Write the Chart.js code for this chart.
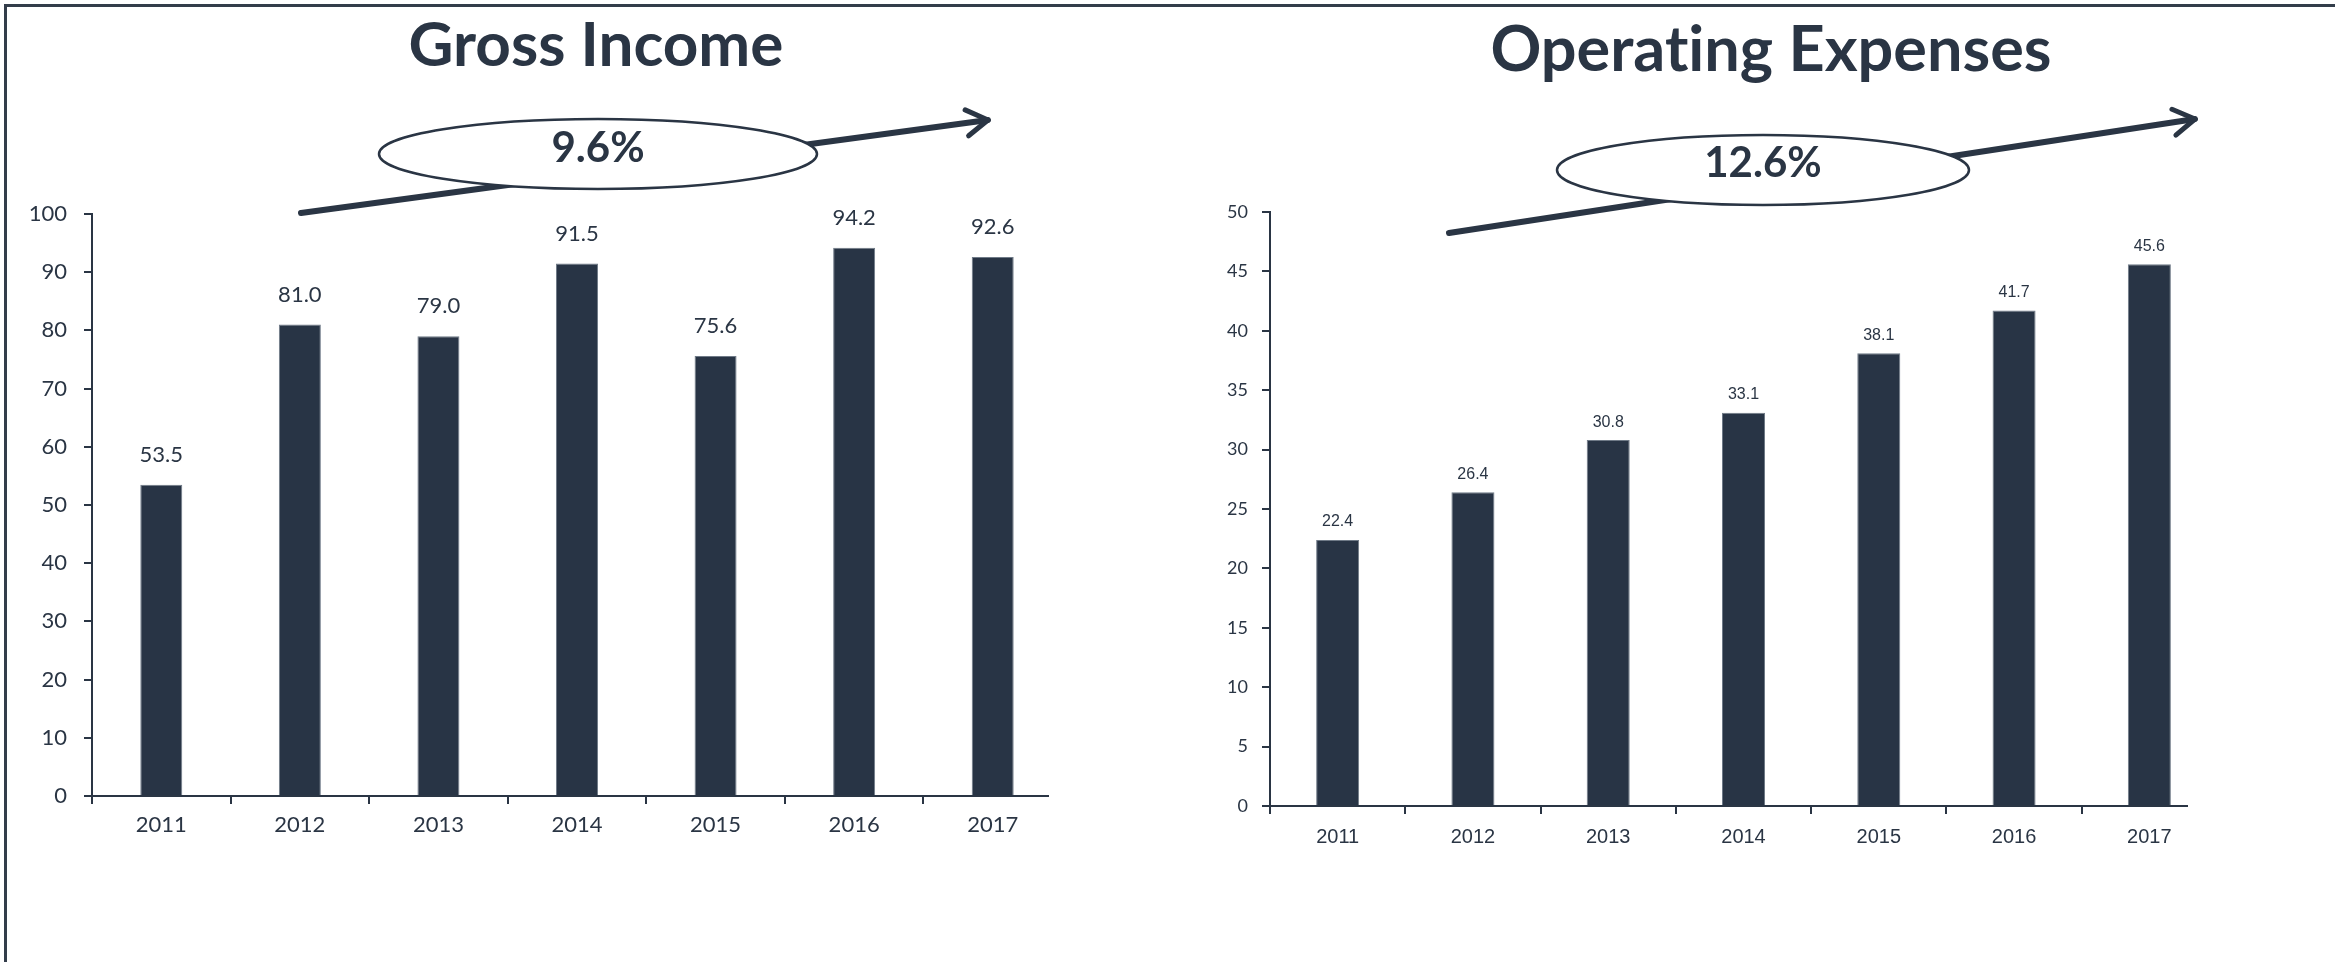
<!DOCTYPE html>
<html>
<head>
<meta charset="utf-8">
<title>Gross Income / Operating Expenses</title>
<script src="https://cdn.jsdelivr.net/npm/chart.js@4.4.1/dist/chart.umd.min.js"></script>
<style>
  html, body { margin: 0; padding: 0; background: #fff; }
  body { width: 2335px; height: 962px; position: relative; overflow: hidden; }
  .frame {
    position: absolute; left: 4px; top: 4px; width: 2400px; height: 1000px;
    border-top: 3px solid #333d4a; border-left: 3px solid #333d4a;
  }
  canvas { position: absolute; top: 0; }
  #incomeChart { left: 0; }
  #expenseChart { left: 1168px; }
  .txt {
    position: absolute; width: 700px; text-align: center; white-space: nowrap;
    font-family: Lato, "Noto Sans", sans-serif; font-weight: 700; color: #2a3544;
    font-variant-ligatures: none; z-index: 2;
  }
  .title { font-size: 62px; line-height: 62px; }
  .rate { font-size: 42px; line-height: 42px; }
</style>
</head>
<body>
<div class="frame"></div>
<canvas id="incomeChart" width="1168" height="962"></canvas>
<canvas id="expenseChart" width="1167" height="962"></canvas>

<div class="txt title" style="left:246px; top:11px;">Gross Income</div>
<div class="txt title" style="left:1421px; top:15px; font-size:63px; line-height:63px;">Operating Expenses</div>
<div class="txt rate" style="left:248px; top:125px;">9.6%</div>
<div class="txt rate" style="left:1413px; top:140px;">12.6%</div>

<script>
  "use strict";

  // Chart data
  const years = ["2011", "2012", "2013", "2014", "2015", "2016", "2017"];
  const grossIncome = [53.5, 81.0, 79.0, 91.5, 75.6, 94.2, 92.6];
  const operatingExpenses = [22.4, 26.4, 30.8, 33.1, 38.1, 41.7, 45.6];
  const incomeAxis = { min: 0, max: 100, step: 10 };
  const expenseAxis = { min: 0, max: 50, step: 5 };

  const ink = "#2a3544";
  const barColor = "#283445";

  Chart.defaults.color = ink;
  Chart.defaults.devicePixelRatio = 1;

  // Value labels above each bar
  const valueLabels = {
    id: "valueLabels",
    afterDatasetsDraw(chart, args, opts) {
      const ctx = chart.ctx;
      const meta = chart.getDatasetMeta(0);
      const data = chart.data.datasets[0].data;
      ctx.save();
      ctx.font = opts.font;
      ctx.fillStyle = ink;
      ctx.textAlign = "center";
      ctx.textBaseline = "middle";
      meta.data.forEach(function (bar, i) {
        ctx.fillText(data[i].toFixed(1), bar.x, bar.y - opts.offset);
      });
      ctx.restore();
    },
  };

  // Category axis line, a bit shorter than the plot area (as in the sheet)
  const baseLine = {
    id: "baseLine",
    afterDatasetsDraw(chart, args, opts) {
      const ctx = chart.ctx;
      const area = chart.chartArea;
      ctx.save();
      ctx.strokeStyle = ink;
      ctx.lineWidth = 2;
      ctx.beginPath();
      ctx.moveTo(area.left - 1, area.bottom);
      ctx.lineTo(area.right - opts.trim, area.bottom);
      ctx.stroke();
      ctx.restore();
    },
  };

  // Growth arrow with the ellipse badge
  const trendArrow = {
    id: "trendArrow",
    afterDraw(chart, args, opts) {
      const ctx = chart.ctx;
      const [x1, y1] = opts.from;
      const [x2, y2] = opts.to;
      const ang = Math.atan2(y2 - y1, x2 - x1);
      const head = 25;
      const spread = 0.55;
      ctx.save();
      ctx.strokeStyle = ink;
      ctx.lineCap = "round";
      ctx.lineJoin = "round";
      ctx.lineWidth = 6;
      ctx.beginPath();
      ctx.moveTo(x1, y1);
      ctx.lineTo(x2, y2);
      ctx.stroke();
      ctx.lineWidth = 5;
      ctx.beginPath();
      ctx.moveTo(x2 - head * Math.cos(ang - spread), y2 - head * Math.sin(ang - spread));
      ctx.lineTo(x2, y2);
      ctx.lineTo(x2 - head * Math.cos(ang + spread), y2 - head * Math.sin(ang + spread));
      ctx.stroke();

      const [cx, cy, rx, ry] = opts.ellipse;
      ctx.beginPath();
      ctx.ellipse(cx, cy, rx, ry, 0, 0, Math.PI * 2);
      ctx.fillStyle = "#fff";
      ctx.fill();
      ctx.lineWidth = 2.5;
      ctx.stroke();
      ctx.restore();
    },
  };

  function barChart(id, values, axis, look) {
    let ctx = document.getElementById(id).getContext("2d");
    return new Chart(ctx, {
      type: "bar",
      data: {
        labels: years,
        datasets: [
          {
            data: values,
            backgroundColor: barColor,
            borderColor: "#6f7a87",
            borderWidth: 1,
            borderSkipped: "bottom",
            barPercentage: look.barPct,
            categoryPercentage: 1,
          },
        ],
      },
      options: {
        responsive: false,
        animation: false,
        layout: { padding: look.padding },
        plugins: {
          legend: { display: false },
          tooltip: { enabled: false },
          valueLabels: look.values,
          trendArrow: look.trend,
          baseLine: { trim: look.trim },
        },
        scales: {
          x: {
            grid: {
              drawOnChartArea: false,
              drawTicks: true,
              tickLength: 8,
              lineWidth: 2,
              color: ink,
              // no tick at the far right end
              tickColor: function (c) {
                return c.type === "tick" ? ink : "rgba(0,0,0,0)";
              },
            },
            border: { display: false },
            ticks: {
              font: look.xFont,
              padding: look.xPad,
              autoSkip: false,
              maxRotation: 0,
            },
            afterFit: function (scale) {
              scale.height = look.xHeight;
            },
          },
          y: {
            min: axis.min,
            max: axis.max,
            grid: {
              drawOnChartArea: false,
              drawTicks: true,
              tickLength: 8,
              lineWidth: 2,
              color: ink,
            },
            border: { display: true, width: 2, color: ink },
            ticks: {
              stepSize: axis.step,
              font: look.yFont,
              padding: look.yPad,
            },
            afterFit: function (scale) {
              scale.width = look.yWidth;
            },
          },
        },
      },
      plugins: [baseLine, valueLabels, trendArrow],
    });
  }

  // Gross Income
  let incomeChart = barChart("incomeChart", grossIncome, incomeAxis, {
    barPct: 0.303,
    padding: { top: 214, right: 106, bottom: 0, left: 0 },
    trim: 13,
    yWidth: 92,
    yPad: 17,
    yFont: { family: "Lato", size: 22 },
    xHeight: 166,
    xPad: 8,
    xFont: { family: "Lato", size: 22 },
    values: { font: "22px Lato", offset: 30 },
    trend: { from: [301, 213], to: [988, 120], ellipse: [598, 154, 219, 35] },
  });

  // Operating Expenses
  let expenseChart = barChart("expenseChart", operatingExpenses, expenseAxis, {
    barPct: 0.318,
    padding: { top: 212, right: 118, bottom: 0, left: 0 },
    trim: 29,
    yWidth: 102,
    yPad: 14,
    yFont: { family: "Lato", size: 18 },
    xHeight: 156,
    xPad: 11,
    xFont: { family: "Liberation Sans", size: 20 },
    values: { font: "16px 'Liberation Sans'", offset: 18 },
    trend: { from: [281, 233], to: [1027, 119], ellipse: [595, 170, 206, 35] },
  });
</script>
</body>
</html>
